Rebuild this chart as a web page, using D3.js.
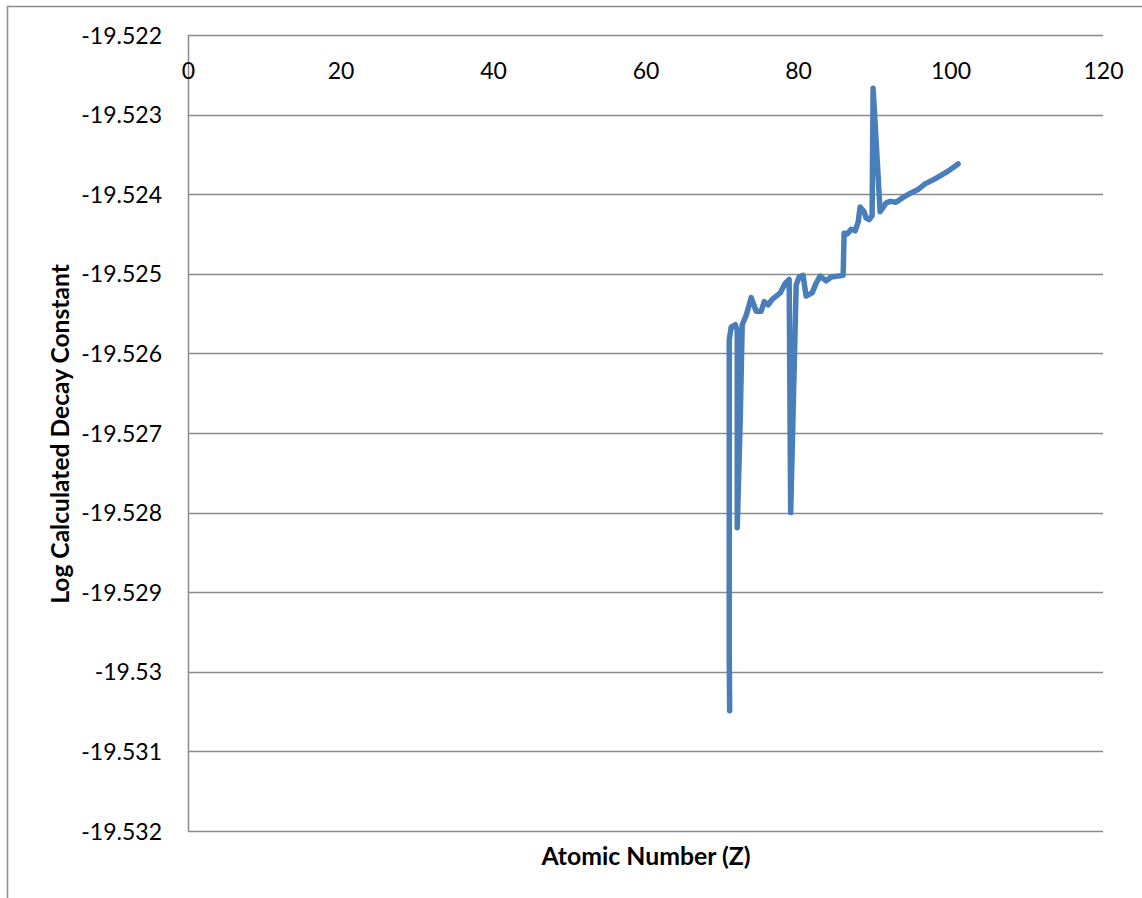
<!DOCTYPE html>
<html>
<head>
<meta charset="utf-8">
<script src="https://cdn.jsdelivr.net/npm/d3@7"></script>
<style>
  html, body { margin: 0; padding: 0; background: #fff; }
  svg { display: block; }
</style>
</head>
<body>
<svg id="chart" width="1142" height="898"></svg>
<script>
// Atomic number (Z) of each point along the curve
const atomicNumber = [
  71.04, 70.98, 70.98, 71.24, 71.77, 72.03, 72.03, 72.42, 72.68, 73.21,
  73.86, 74.52, 75.17, 75.57, 76.09, 76.62, 77.14, 77.67, 78.32, 78.84,
  79.04, 79.76, 80.15, 80.67, 81.06, 81.85, 82.37, 82.90, 83.69, 84.35,
  85.92, 86.05, 86.45, 86.97, 87.50, 87.89, 88.15, 88.68, 88.94, 89.33,
  89.72, 89.85, 90.77, 91.55, 92.08, 92.86, 93.78, 94.70, 95.75, 96.67,
  97.72, 98.64, 99.69, 101.0
];
// Log of the calculated decay constant at each point
const logDecay = [
  -19.53049, -19.52979, -19.52583, -19.52567, -19.52564, -19.52571, -19.52819, -19.52684, -19.52564, -19.52552,
  -19.52530, -19.52547, -19.52547, -19.52535, -19.52539, -19.52532, -19.52528, -19.52524, -19.52512, -19.52507,
  -19.52800, -19.52514, -19.52504, -19.52502, -19.52528, -19.52524, -19.52512, -19.52503, -19.52509, -19.52504,
  -19.52502, -19.52449, -19.52450, -19.52444, -19.52446, -19.52435, -19.52416, -19.52422, -19.52430, -19.52432,
  -19.52427, -19.52267, -19.52422, -19.52411, -19.52409, -19.52410, -19.52404, -19.52399, -19.52394, -19.52387,
  -19.52382, -19.52377, -19.52371, -19.52362
];
const xTicks = [0, 20, 40, 60, 80, 100, 120];
const yTicks = [-19.522, -19.523, -19.524, -19.525, -19.526, -19.527, -19.528, -19.529, -19.53, -19.531, -19.532];
const xTitle = "Atomic Number (Z)";
const yTitle = "Log Calculated Decay Constant";

const svg = d3.select("#chart");
const plotLeft = 188, plotRight = 1103, plotTop = 35, plotBottom = 831;
const fontFamily = "Lato, 'Open Sans', sans-serif";

const x = d3.scaleLinear().domain([0, 120]).range([plotLeft, plotRight]);
const y = d3.scaleLinear().domain([-19.532, -19.522]).range([plotBottom, plotTop]);

// chart frame
svg.append("path")
  .attr("d", `M7.5,898 V6.5 H1142`)
  .attr("fill", "none").attr("stroke", "#8c8c8c").attr("stroke-width", 1.5);

// horizontal gridlines
svg.append("g")
  .selectAll("line").data(yTicks).join("line")
  .attr("x1", plotLeft).attr("x2", plotRight)
  .attr("y1", d => Math.round(y(d)) + 0.5).attr("y2", d => Math.round(y(d)) + 0.5)
  .attr("stroke", "#8a8a8a").attr("stroke-width", 1.5);

// vertical value axis line
svg.append("line")
  .attr("x1", plotLeft + 0.5).attr("x2", plotLeft + 0.5).attr("y1", plotTop).attr("y2", plotBottom)
  .attr("stroke", "#8a8a8a").attr("stroke-width", 1.5);

// y tick labels
const yAxis = d3.axisLeft(y).tickValues(yTicks).tickSize(0).tickPadding(0)
  .tickFormat(d => String(+d.toFixed(3)));
const gy = svg.append("g").attr("transform", `translate(${plotLeft - 26},0)`).call(yAxis);
gy.select(".domain").remove();
gy.selectAll("text")
  .attr("font-family", fontFamily).attr("font-size", 23).attr("fill", "#000")
  .attr("dy", "0.35em");

// x tick labels (axis crosses at the top of the value range)
const xAxis = d3.axisBottom(x).tickValues(xTicks).tickSize(0).tickPadding(0)
  .tickFormat(d3.format("d"));
const gx = svg.append("g").attr("transform", `translate(0,${plotTop + 36})`).call(xAxis);
gx.select(".domain").remove();
gx.selectAll("text")
  .attr("font-family", fontFamily).attr("font-size", 23).attr("fill", "#000")
  .attr("dy", "0.35em");

// data line
const pts = atomicNumber.map((z, i) => [z, logDecay[i]]);
svg.append("path")
  .datum(pts)
  .attr("d", d3.line().x(d => x(d[0])).y(d => y(d[1])))
  .attr("fill", "none")
  .attr("stroke", "#4a7ebb")
  .attr("stroke-width", 5.5)
  .attr("stroke-linejoin", "round")
  .attr("stroke-linecap", "round");

// axis titles
svg.append("text")
  .attr("x", 646).attr("y", 856).attr("dy", "0.35em")
  .attr("text-anchor", "middle")
  .attr("font-family", fontFamily).attr("font-weight", "bold").attr("font-size", 24.8)
  .text(xTitle);

svg.append("text")
  .attr("transform", "translate(60,434) rotate(-90)")
  .attr("dy", "0.35em")
  .attr("text-anchor", "middle")
  .attr("font-family", fontFamily).attr("font-weight", "bold").attr("font-size", 24.6)
  .text(yTitle);
</script>
</body>
</html>
